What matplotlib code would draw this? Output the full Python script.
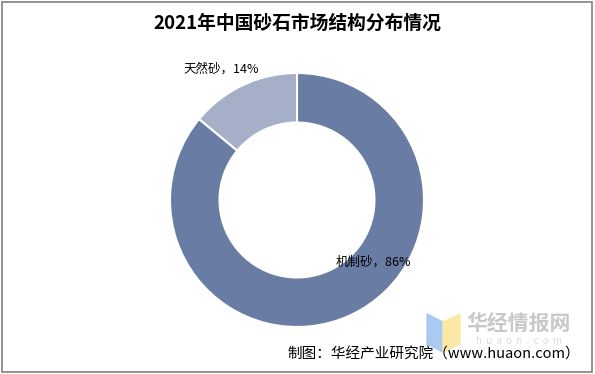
import matplotlib.pyplot as plt
from matplotlib.patches import Polygon, Rectangle

plt.rcParams['font.family'] = ['Noto Sans CJK SC', 'DejaVu Sans']

labels = ['机制砂', '天然砂']
shares = [86, 14]
colors = ['#687ca4', '#a5b0c8']

fig = plt.figure(figsize=(5.95, 3.74), dpi=100)
W, H = 595, 374

# pie area: centre (297,200), outer radius ~127 px
r = 127
ax = fig.add_axes([(297 - r) / W, 1 - (200 + r) / H, 2 * r / W, 2 * r / H])
wedges, _ = ax.pie(shares, colors=colors, startangle=90, counterclock=False,
                   radius=1.0, wedgeprops=dict(width=0.39, edgecolor='white', linewidth=1.5))
ax.set_xlim(-1, 1)
ax.set_ylim(-1, 1)
ax.set_aspect('equal')
ax.axis('off')

# data labels
fig.text(183 / W, 1 - 69 / H, f'{labels[1]}，{shares[1]}%', fontsize=9, va='center', ha='left')
fig.text(336 / W, 1 - 262 / H, f'{labels[0]}，{shares[0]}%', fontsize=9, va='center', ha='left')

# title
fig.text(297 / W, 1 - 23 / H, '2021年中国砂石市场结构分布情况', fontsize=13.5,
         fontweight='bold', ha='center', va='center')

# watermark logo
fig.patches.append(Polygon([[427 / W, 1 - 314 / H], [443 / W, 1 - 322 / H],
                            [443 / W, 1 - 352 / H], [427 / W, 1 - 344 / H]],
                           closed=True, transform=fig.transFigure, color='#a9cbf2', zorder=0))
fig.patches.append(Polygon([[443 / W, 1 - 322 / H], [460 / W, 1 - 314 / H],
                            [460 / W, 1 - 344 / H], [443 / W, 1 - 352 / H]],
                           closed=True, transform=fig.transFigure, color='#fbe7a6', zorder=0))
fig.text(519 / W, 1 - 323 / H, '华经情报网', fontsize=15, fontweight='bold',
         color='#c8c8c8', ha='center', va='center')
fig.text(519 / W, 1 - 341 / H, 'h  u  a  o  n  .  c  o  m', fontsize=7,
         color='#dcdcdc', ha='center', va='center')

# source note
fig.text(580 / W, 1 - 355 / H, '制图：华经产业研究院（www.huaon.com）', fontsize=10.5,
         ha='right', va='center')

# outer frame
fig.patches.append(Rectangle((2 / W, 2 / H), 590 / W, 370 / H, transform=fig.transFigure,
                             fill=False, edgecolor='#808080', linewidth=1.2))

fig.savefig('out.png', dpi=100)
